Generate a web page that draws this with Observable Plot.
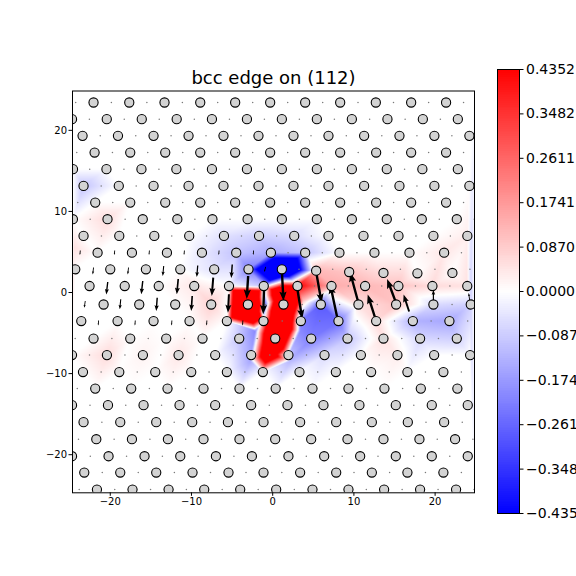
<!DOCTYPE html>
<html><head><meta charset="utf-8">
<script src="https://cdn.jsdelivr.net/npm/d3@7"></script>
<script src="https://cdn.jsdelivr.net/npm/@observablehq/plot@0.6"></script>
<style>
body{margin:0;background:#fff;}
#wrap{position:relative;width:576px;height:576px;overflow:hidden;font-family:"DejaVu Sans";}
#main,#cbar{position:absolute;top:0;}
#main{left:0;} #cbar{left:497px;}
</style></head><body><div id="wrap"><div id="main"></div><div id="cbar"></div></div>
<script>
// ---------- data ----------
const title = "bcc edge on (112)";
const xTicks = [-20, -10, 0, 10, 20];
const yTicks = [-20, -10, 0, 10, 20];
const cbarTicks = [0.4352, 0.3482, 0.2611, 0.1741, 0.0870, 0.0000, -0.0870, -0.1741, -0.2611, -0.3482, -0.4352];
const cbarMax = 0.4352;

// atom rows (circles): y of each row and x of each atom
const rowY = [23.43, 21.38, 19.32, 17.26, 15.21, 13.15, 11.09, 9.04, 6.98, 4.91, 2.86, 0.80,
  -1.48, -3.52, -5.68, -7.72, -9.81, -11.85, -13.89, -15.99, -18.09, -20.19, -22.2, -24.3];
const rowX = [
  [-22.06, -17.66, -13.32, -8.92, -4.62, -0.31, 4.00, 8.31, 12.70, 17.05, 21.35],
  [-24.71, -20.43, -16.12, -11.82, -7.48, -3.17, 1.13, 5.44, 9.75, 14.13, 18.49, 22.80],
  [-23.41, -19.05, -14.67, -10.36, -6.06, -1.75, 2.56, 6.87, 11.26, 15.61, 19.91, 24.22],
  [-21.93, -17.54, -13.23, -8.92, -4.62, -0.31, 4.00, 8.31, 12.74, 17.05, 21.35],
  [-24.59, -20.47, -16.16, -11.86, -7.48, -3.17, 1.13, 5.44, 9.75, 14.05, 18.43, 22.80],
  [-23.29, -18.95, -14.67, -10.36, -6.06, -1.75, 2.56, 6.87, 11.26, 15.61, 19.91, 24.22],
  [-21.85, -17.54, -13.23, -8.92, -4.62, -0.31, 4.00, 8.31, 12.74, 17.05, 21.35],
  [-24.60, -20.34, -16.00, -11.74, -7.42, -3.09, 1.13, 5.44, 9.75, 14.05, 18.36, 22.67],
  [-23.29, -18.89, -14.58, -10.28, -6.00, -1.68, 2.65, 6.87, 11.18, 15.49, 19.79, 23.97],
  [-21.56, -17.33, -13.02, -8.71, -4.49, -0.22, 4.00, 8.22, 12.53, 16.84, 21.11],
  [-24.31, -20.00, -15.61, -11.38, -7.20, -2.98, 1.13, 5.35, 9.42, 13.64, 17.82, 22.13],
  [-22.55, -18.22, -14.03, -9.66, -5.38, -1.10, 3.05, 7.24, 11.38, 15.48, 19.67, 23.96],
  [-20.82, -16.43, -12.00, -7.57, -3.05, 1.33, 5.93, 10.56, 15.20, 19.79, 24.39],
  [-23.57, -19.10, -14.67, -10.24, -5.64, -1.13, 3.47, 8.10, 12.74, 17.26, 21.76],
  [-22.06, -17.54, -13.11, -8.64, -4.12, 0.31, 4.74, 9.21, 13.64, 18.15, 22.67],
  [-24.71, -20.41, -15.98, -11.59, -7.08, -2.65, 1.94, 6.38, 10.86, 15.36, 19.88, 24.31],
  [-23.36, -18.89, -14.46, -10.03, -5.64, -1.21, 3.30, 7.78, 12.12, 16.59, 21.02],
  [-21.85, -17.42, -12.95, -8.52, -4.09, 0.37, 4.90, 9.33, 13.76, 18.24, 22.74],
  [-24.71, -20.28, -15.90, -11.47, -7.08, -2.65, 1.82, 6.25, 10.68, 15.16, 19.59, 24.02],
  [-23.29, -18.77, -14.34, -9.91, -5.51, -1.13, 3.38, 7.82, 12.21, 16.64, 21.11],
  [-21.72, -17.33, -12.90, -8.52, -4.09, 0.31, 4.74, 9.21, 13.64, 18.07, 22.46],
  [-24.71, -20.21, -15.78, -11.38, -6.99, -2.56, 1.94, 6.34, 10.77, 15.16, 19.59, 24.02],
  [-23.20, -18.77, -14.34, -9.87, -5.44, -1.13, 3.38, 7.82, 12.21, 16.59, 21.02],
  [-21.64, -17.26, -12.82, -8.43, -4.00, 0.43, 4.90, 9.33, 13.72, 18.15, 22.58]
];
// row 10 atoms sit slightly lower to the right of the core
const row10Y = [2.86, 2.86, 2.86, 2.86, 2.86, 2.86, 2.86, 2.69, 2.53, 2.41, 2.37, 2.41];

// arrows: tail position and vector components (data units)
const arrowX = [-23.69, -19.45, -15.18, -10.87, -6.60, -2.35,
  -22.06, -17.75, -13.42, -9.23, -4.98, -0.86,
  -20.31, -16.00, -11.63, -7.32, -3.02, 1.13, 3.02, 5.29,
  -23.08, -18.71, -14.22, -9.91, -5.39, -1.07, 8.00, 10.56, 12.68, 15.20, 16.80, 19.79, 24.25,
  -21.44, -16.92, -12.41, -8.10, -3.67];
const arrowY = [5.19, 5.19, 5.19, 5.19, 5.19, 5.19,
  3.09, 3.09, 3.27, 3.33, 3.46, 3.15,
  1.30, 1.42, 1.67, 1.83, 2.04, 2.65, 0.56, 2.90,
  -1.05, -0.84, -0.64, -0.43, -0.22, 0.19, -3.33, -1.30, -3.33, -1.30, -2.35, -1.05, -0.93,
  -3.46, -3.46, -3.46, -3.46, -3.46];
const arrowU = [-0.05, -0.05, -0.05, -0.05, -0.05, -0.05,
  -0.10, -0.10, -0.12, -0.12, -0.12, -0.18,
  -0.18, -0.18, -0.18, -0.18, -0.18, 0.20, 0.62, 0.74,
  -0.12, -0.12, -0.12, -0.12, -0.12, -0.10, -0.92, -1.02, -0.98, -1.11, -0.68, 0.00, -0.12,
  -0.05, -0.05, -0.05, -0.05, -0.05];
const arrowV = [-0.55, -0.55, -0.55, -0.55, -0.55, -0.55,
  -0.86, -0.86, -1.23, -1.42, -1.67, -0.62,
  -1.54, -1.64, -1.89, -2.26, -2.84, -3.70, -3.83, -4.20,
  -0.83, -1.23, -1.64, -1.85, -2.27, -2.88, 4.32, 3.77, 3.09, 2.96, 2.10, 1.36, 0.86,
  -0.62, -0.62, -0.62, -0.62, -0.62];

// colour field samples (value at a point; everything else 0)
const fieldX = [1.13, -3.05, 1.33, 0.31, 3.05, -0.9, -1.10, -1.13, -2.65, -4.12, -1.1, -1.1,
  1.54, 0.92, -0.55, 3.75, 3.38, 2.15, -2.15, -2.77,
  5.93, 3.47, 8.10, 4.74, 9.21, 1.94, 6.38,
  17.26, 21.76, 19.79, 18.15, 22.67, 24.39,
  5.35, 9.42, 13.64, 7.24, 11.38, 15.48, 19.67, 23.96, 10.56, 15.20, 12.74, 13.64, 15.36,
  -20.41, -11.59, -15.98, -7.57, -9.66, -20.34, -24.5,
  -23.29,
  -6.00, -1.68, 2.65, -4.49, -0.22, 4.00, -8.71, -2.98, -7.20,
  21.11, 23.97];
const fieldY = [2.86, -1.48, -1.48, -5.68, 0.80, -1.48, 0.80, -3.52, -7.72, -5.68, -2.6, -0.3,
  -0.43, -4.14, -7.47, -1.05, -4.75, -8.46, -4.75, -8.46,
  -1.48, -3.52, -3.52, -5.68, -5.68, -7.72, -7.72,
  -3.52, -3.52, -1.48, -5.68, -5.68, -1.48,
  2.69, 2.53, 2.41, 0.86, 0.80, 0.86, 0.80, 0.80, -1.48, -1.48, -3.52, -5.68, -7.72,
  -7.72, -7.72, -7.72, -1.48, 0.80, 9.04, 5.5,
  13.15,
  6.98, 6.98, 6.98, 4.91, 4.91, 4.91, 4.91, 2.86, 2.86,
  4.91, 6.98];
const fieldV = [-1.1, 2.0, 1.4, 1.3, 0.45, -0.25, -0.1, 0.15, -0.15, -0.1, -0.15, -0.15,
  1.4, 1.4, 0.9, 0.1, -0.2, -0.12, -0.2, -0.15,
  -0.28, -0.22, -0.25, -0.22, -0.1, -0.1, -0.06,
  -0.13, -0.15, -0.06, -0.07, -0.08, -0.08,
  0.12, 0.1, 0.06, 0.14, 0.12, 0.1, 0.06, 0.05, 0.05, 0.1, 0.06, 0.05, 0.03,
  0.06, 0.04, 0.02, 0.08, 0.04, 0.06, 0.05,
  -0.1,
  -0.05, -0.08, -0.06, -0.1, -0.14, -0.1, -0.04, -0.22, -0.05,
  0.04, 0.03];

// ---------- build ----------
const X0 = -24.65, X1 = 24.85, Y0 = -24.7, Y1 = 24.85;
const W = 576, H = 576, mL = 72, mR = 102, mT = 90.5, mB = 83.7;
const pxPerUnit = (W - mL - mR) / (X1 - X0);

const atoms = rowX.flatMap((xs, i) => xs.map((x, j) => ({x, y: i === 10 ? row10Y[j] : rowY[i]})));

const arrows = arrowX.map((x, i) => ({x, y: arrowY[i], u: arrowU[i], v: arrowV[i]}))
  .map(a => ({...a, len: Math.hypot(a.u, a.v), rot: Math.atan2(a.u, a.v) * 180 / Math.PI}));

// the other atom layer sits midway between neighbouring circles; far from the core its arrow is a speck
const mids = [];
rowX.forEach((xs, i) => {
  const y = rowY[i];
  for (let j = 0; j < xs.length - 1; j++) mids.push({x: (xs[j] + xs[j + 1]) / 2, y});
  mids.push({x: xs[0] - (xs[1] - xs[0]) / 2, y});
  const n = xs.length;
  mids.push({x: xs[n - 1] + (xs[n - 1] - xs[n - 2]) / 2, y});
});
const specks = mids.filter(m => m.x > X0 && m.x < X1 &&
  !arrows.some(a => Math.hypot(a.x - m.x, a.y - m.y) < 1.6));

const controls = fieldX.map((x, i) => ({x, y: fieldY[i], v: fieldV[i]}));
const samples = atoms.filter(a => !controls.some(c => Math.hypot(c.x - a.x, c.y - a.y) < 0.8))
  .map(a => ({x: a.x, y: a.y, v: 0}))
  .concat(controls)
  .concat([{x: X0, y: Y0, v: 0}, {x: X0, y: Y1, v: 0}, {x: X1, y: Y0, v: 0}, {x: X1, y: Y1, v: 0}]);

// matplotlib-like filled quiver arrow; short arrows are drawn thinner
const arrowShape = {
  draw(ctx, l) {
    const s = Math.min(1, l / 22);
    const w = Math.max(0.45, 1.2 * s), hl = 9.5 * s, hal = 8.3 * s, hw = 3.6 * s;
    ctx.moveTo(-w, 0);
    ctx.lineTo(-w, -(l - hal));
    ctx.lineTo(-hw, -(l - hl));
    ctx.lineTo(0, -l);
    ctx.lineTo(hw, -(l - hl));
    ctx.lineTo(w, -(l - hal));
    ctx.lineTo(w, 0);
    ctx.closePath();
  }
};

const colorOpts = {type: "linear", domain: [-cbarMax, 0, cbarMax], range: ["#0000ff", "#ffffff", "#ff0000"], clamp: true, interpolate: "rgb"};
const fmtInt = d3.format("d");

const main = Plot.plot({
  width: W, height: H,
  marginLeft: mL, marginRight: mR, marginTop: mT, marginBottom: mB,
  style: {fontFamily: "DejaVu Sans", background: "white", overflow: "visible"},
  x: {domain: [X0, X1], label: null},
  y: {domain: [Y0, Y1], label: null},
  color: colorOpts,
  length: {domain: [0, 1], range: [0, pxPerUnit]},
  marks: [
    Plot.raster(samples, {x: "x", y: "y", fill: "v", interpolate: "barycentric", x1: X0, x2: X1, y1: Y0, y2: Y1}),
    Plot.dot(specks, {x: "x", y: "y", r: 0.75, fill: "#7a7a7a", stroke: "none", clip: true}),
    Plot.vector(arrows, {x: "x", y: "y", length: "len", rotate: "rot", anchor: "start", shape: arrowShape, fill: "black", stroke: "none", clip: true}),
    Plot.dot(atoms, {x: "x", y: "y", r: 4.6, fill: "#d3d3d3", stroke: "black", strokeWidth: 1.1, clip: true}),
    Plot.frame({stroke: "black", strokeWidth: 1}),
    Plot.axisX({ticks: xTicks, tickFormat: fmtInt, tickSize: 3.5, tickPadding: 2, fontSize: 10, label: null}),
    Plot.axisY({ticks: yTicks, tickFormat: fmtInt, tickSize: 3.5, tickPadding: 2, fontSize: 10, label: null}),
    Plot.text([title], {frameAnchor: "top", dy: -13, lineAnchor: "middle", fontSize: 18, fill: "black"})
  ]
});
document.getElementById("main").appendChild(main);

// colour bar
const nStep = 240;
const steps = d3.range(nStep).map(i => {
  const a = -cbarMax + (2 * cbarMax) * i / nStep, b = -cbarMax + (2 * cbarMax) * (i + 1) / nStep;
  return {a, b, m: (a + b) / 2};
});
const cbar = Plot.plot({
  width: 79, height: H,
  marginLeft: 0, marginRight: 57, marginTop: 69, marginBottom: 63,
  style: {fontFamily: "DejaVu Sans", background: "transparent", overflow: "visible"},
  x: {domain: [0, 1], axis: null},
  y: {domain: [-cbarMax, cbarMax], label: null},
  color: colorOpts,
  marks: [
    Plot.rect(steps, {x1: 0, x2: 1, y1: "a", y2: "b", fill: "m", insetTop: -0.5, insetBottom: -0.5, shapeRendering: "crispEdges"}),
    Plot.frame({stroke: "black", strokeWidth: 1}),
    Plot.axisY({anchor: "right", ticks: cbarTicks, tickFormat: d3.format(".4f"), tickSize: 3.5, tickPadding: 3, fontSize: 14, label: null})
  ]
});
document.getElementById("cbar").appendChild(cbar);
</script>
</body></html>
